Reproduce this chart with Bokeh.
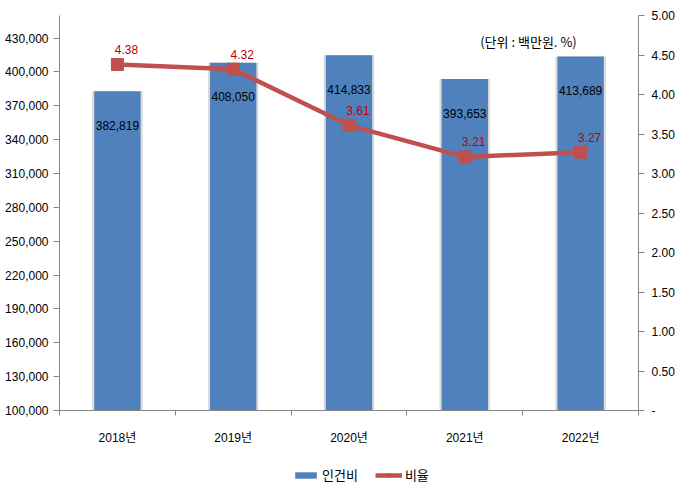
from bokeh.plotting import figure
from bokeh.layouts import column
from bokeh.models import (Range1d, LinearAxis, FixedTicker, NumeralTickFormatter,
                          Legend, LegendItem, Label)
from bokeh.core.properties import value
from bokeh.embed import file_html
from bokeh.resources import INLINE

years = ["2018년", "2019년", "2020년", "2021년", "2022년"]
labor_cost = [382819, 408050, 414833, 393653, 413689]
ratio = [4.38, 4.32, 3.61, 3.21, 3.27]
left_ticks = [100000, 130000, 160000, 190000, 220000, 250000, 280000,
              310000, 340000, 370000, 400000, 430000]
right_ticks = [0, 0.5, 1.0, 1.5, 2.0, 2.5, 3.0, 3.5, 4.0, 4.5, 5.0]
unit_text = "(단위 : 백만원. %)"
series_names = ["인건비", "비율"]

xs = [i + 0.5 for i in range(len(years))]
bounds = [i for i in range(len(years) + 1)]

BLUE = "#4F81BD"
RED = "#C0504D"
AXIS = "#868686"
NUM_FONT = "Liberation Sans"
KR_FONT = "Noto Sans CJK KR"

p = figure(width=683, height=450, x_range=Range1d(0, len(years)),
           y_range=Range1d(100000, 450000),
           output_backend="svg", toolbar_location=None,
           min_border_left=59, min_border_right=45,
           min_border_top=15, min_border_bottom=40)
p.outline_line_color = None
p.grid.visible = False
p.background_fill_color = "white"
p.border_fill_color = "white"

# left axis
ya = p.yaxis[0]
ya.ticker = FixedTicker(ticks=left_ticks)
ya.formatter = NumeralTickFormatter(format="0,0")
ya.axis_line_color = AXIS
ya.major_tick_line_color = AXIS
ya.minor_tick_line_color = None
ya.major_tick_out = 6
ya.major_tick_in = 0
ya.major_label_standoff = 5
ya.major_label_text_font = NUM_FONT
ya.major_label_text_font_size = "12px"
ya.major_label_text_color = "black"

# bottom axis
xa = p.xaxis[0]
xa.ticker = FixedTicker(ticks=xs, minor_ticks=bounds)
xa.major_label_overrides = {x: y for x, y in zip(xs, years)}
xa.axis_line_color = AXIS
xa.major_tick_line_color = None
xa.major_tick_out = 0
xa.major_tick_in = 0
xa.minor_tick_line_color = AXIS
xa.minor_tick_out = 5
xa.minor_tick_in = 0
xa.major_label_standoff = 15
xa.major_label_text_font = NUM_FONT + ", " + KR_FONT
xa.major_label_text_font_size = "12px"
xa.major_label_text_color = "black"

# right axis
p.extra_y_ranges = {"right": Range1d(0, 5)}
ra = LinearAxis(y_range_name="right", ticker=FixedTicker(ticks=right_ticks),
                formatter=NumeralTickFormatter(format="0.00"),
                major_label_overrides={0: "-"})
ra.axis_line_color = AXIS
ra.major_tick_line_color = AXIS
ra.minor_tick_line_color = None
ra.major_tick_out = 6
ra.major_tick_in = 0
ra.major_label_standoff = 7
ra.major_label_text_font = NUM_FONT
ra.major_label_text_font_size = "12px"
ra.major_label_text_color = "black"
p.add_layout(ra, "right")

# bars with light shadow edges
p.vbar(x=xs, top=labor_cost, bottom=100000, width=0.436,
       fill_color="#DADADA", line_color=None)
p.vbar(x=xs, top=labor_cost, bottom=100000, width=0.4,
       fill_color=BLUE, line_color=None)
p.text(x=xs, y=labor_cost, text=[f"{v:,}" for v in labor_cost],
       text_align="center", text_baseline="middle", y_offset=34,
       text_font=value(NUM_FONT), text_font_size="12px", text_color="black")

# ratio line
p.line(x=xs, y=ratio, y_range_name="right", line_color=RED, line_width=4.5)
p.scatter(x=xs, y=ratio, y_range_name="right", marker="square", size=12,
          fill_color=RED, line_color=RED)
p.text(x=xs, y=ratio, y_range_name="right", text=[f"{r:.2f}" for r in ratio],
       text_align="center", text_baseline="middle", x_offset=9, y_offset=-15,
       text_font=value(NUM_FONT), text_font_size="12px", text_color="#C00000")

# unit label
p.add_layout(Label(x=4.05, y=427000, text=unit_text, text_align="center",
                   text_baseline="middle", text_font=KR_FONT,
                   text_font_size="13px", text_color="black"))

# legend strip below the chart (proxy glyphs kept outside the visible range)
q = figure(width=683, height=42, x_range=Range1d(0, 1), y_range=Range1d(0, 1),
           output_backend="svg", toolbar_location=None,
           x_axis_type=None, y_axis_type=None,
           min_border_left=0, min_border_right=0,
           min_border_top=0, min_border_bottom=0)
q.outline_line_color = None
q.grid.visible = False
lb = q.vbar(x=[-5], top=[-5], bottom=[-6], width=0.4, fill_color=BLUE, line_color=None)
ll = q.line(x=[-5, -4], y=[-5, -5], line_color=RED, line_width=4.5)
ls = q.scatter(x=[-5], y=[-5], marker="square", size=9, fill_color=RED, line_color=RED)

legend = Legend(items=[LegendItem(label=series_names[0], renderers=[lb]),
                       LegendItem(label=series_names[1], renderers=[ll, ls])],
                orientation="horizontal", location=(233, 8),
                border_line_color=None, background_fill_alpha=0,
                glyph_width=27, glyph_height=8, label_standoff=3, spacing=17,
                padding=2, margin=0, label_height=16, label_width=10,
                label_text_font=KR_FONT, label_text_font_size="13px",
                label_text_color="black")
q.add_layout(legend)

open("out.html", "w").write(file_html(column(p, q, spacing=0), INLINE))
